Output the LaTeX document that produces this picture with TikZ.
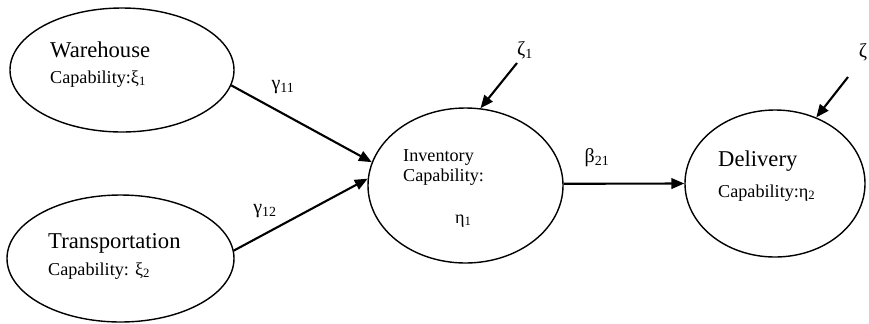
\documentclass[tikz,border=0pt]{standalone}
\usepackage{fontspec}
\setmainfont{Liberation Serif}
\usetikzlibrary{shapes.geometric,arrows.meta}
\begin{document}
\begin{tikzpicture}[x=0.03cm,y=-0.03cm,
capnode/.style={draw,ellipse,line width=1.2pt,inner sep=0pt},
namelbl/.style={anchor=base west,inner sep=0pt,font=\fontsize{19.3}{21}\selectfont},
caplbl/.style={anchor=base west,inner sep=0pt,font=\fontsize{15.5}{17}\selectfont},
greeklbl/.style={inner sep=0pt,font=\fontsize{17}{19}\selectfont},
link/.style={-{Triangle[length=11pt,width=9pt]},line width=1.8pt}]
\useasboundingbox (0,0) rectangle (869,323);
\node[capnode,minimum width=6.72cm,minimum height=3.72cm] (wh) at (122,70) {};
\node[capnode,minimum width=6.81cm,minimum height=3.81cm] (tr) at (120.5,258.5) {};
\node[capnode,minimum width=5.85cm,minimum height=4.65cm] (inv) at (465.5,185.5) {};
\node[capnode,minimum width=5.4cm,minimum height=4.41cm] (dl) at (775,183.5) {};
\node[namelbl] (whname) at (50,57) {Warehouse};
\node[caplbl] (whcap) at (50,83) {Capability:ξ\textsubscript{1}};
\node[namelbl] (trname) at (48,248) {Transportation};
\node[caplbl] (trcap) at (48,275) {Capability: ξ\textsubscript{2}};
\node[caplbl] (invname) at (403,161) {Inventory};
\node[caplbl] (invcap) at (403,181) {Capability:};
\node[caplbl] (inveta) at (455,223) {η\textsubscript{1}};
\node[namelbl] (dlname) at (718,166) {Delivery};
\node[caplbl] (dlcap) at (718,197) {Capability:η\textsubscript{2}};
\node[greeklbl] (g11) at (283,87) {γ\textsubscript{11}};
\node[greeklbl] (g12) at (265,211) {γ\textsubscript{12}};
\node[greeklbl] (b21) at (597,158) {β\textsubscript{21}};
\node[greeklbl] (z1) at (525,50) {ζ\textsubscript{1}};
\node[greeklbl] (z2) at (863,52) {ζ};
\coordinate (z1s) at (517,63);
\coordinate (z2s) at (848,77);
\draw[link] (wh.-8) -- (inv.166);
\draw[link] (tr.4) -- (inv.176);
\draw[link] (z1s) -- (inv.79);
\draw[link] (inv.1) -- (dl.180);
\draw[link] (z2s) -- (dl.58);
\end{tikzpicture}
\end{document}
